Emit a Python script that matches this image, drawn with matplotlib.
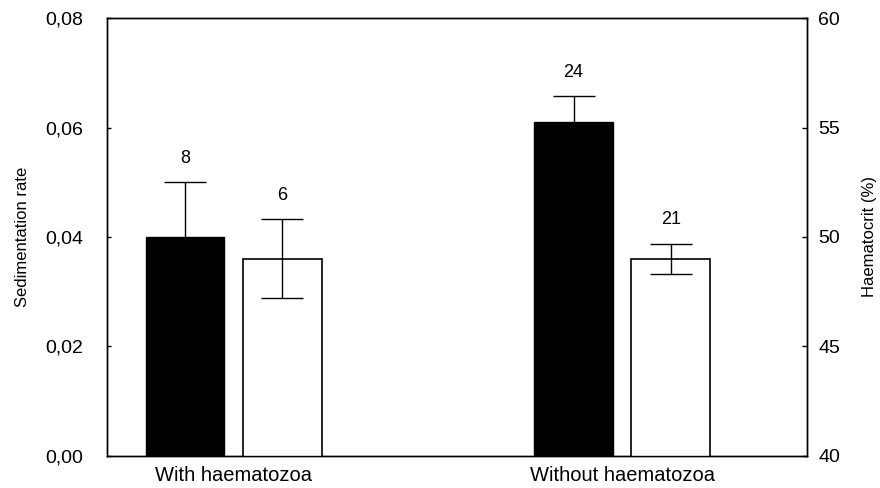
import matplotlib
matplotlib.use('Agg')
import matplotlib.pyplot as plt
from matplotlib.ticker import FuncFormatter, MultipleLocator

plt.rcParams['font.family'] = ['Liberation Sans', 'DejaVu Sans']

# data
groups = ['With haematozoa', 'Without haematozoa']
sed_rate = [0.040, 0.061]          # black bars, left axis
sed_err = [0.010, 0.0047]
sed_n = [8, 24]
haemato = [49.0, 49.0]             # white bars, right axis
haemato_err = [1.8, 0.7]
haemato_n = [6, 21]

x = [0, 1]
w = 0.203
off = 0.125

fig = plt.figure(figsize=(8.8, 4.88), dpi=100)
ax = fig.add_axes([0.1216, 0.0656, 0.7955, 0.8975])
ax2 = ax.twinx()

xb = [i - off for i in x]
xw = [i + off for i in x]

ax.bar(xb, sed_rate, width=w, color='black', edgecolor='black', linewidth=1, zorder=2)
ax.errorbar(xb, sed_rate, yerr=sed_err, fmt='none', ecolor='black',
            elinewidth=1, capsize=14.8, capthick=1, zorder=3)
ax2.bar(xw, haemato, width=w, bottom=0, color='white', edgecolor='black', linewidth=1.2, zorder=2)
ax2.errorbar(xw, haemato, yerr=haemato_err, fmt='none', ecolor='black',
             elinewidth=1, capsize=14.8, capthick=1, zorder=3)

for xi, v, e, n in zip(xb, sed_rate, sed_err, sed_n):
    ax.annotate(str(n), (xi, v + e), xytext=(0, 17), textcoords='offset points',
                ha='center', va='center', fontsize=13)
for xi, v, e, n in zip(xw, haemato, haemato_err, haemato_n):
    ax2.annotate(str(n), (xi, v + e), xytext=(0, 17.5), textcoords='offset points',
                 ha='center', va='center', fontsize=13)

ax.set_xlim(-0.3256, 1.476)
ax.set_ylim(0, 0.08)
ax2.set_ylim(40, 60)
ax.yaxis.set_major_locator(MultipleLocator(0.02))
ax2.yaxis.set_major_locator(MultipleLocator(5))
ax.yaxis.set_major_formatter(FuncFormatter(lambda v, p: f"{v:.2f}".replace('.', ',')))

ax.set_xticks(x)
ax.set_xticklabels(groups, fontsize=14.5)
ax.tick_params(axis='x', length=0, pad=7)
ax.tick_params(axis='y', direction='in', length=3, width=1, labelsize=14, pad=17)
ax2.tick_params(axis='y', direction='in', length=3.5, width=1, labelsize=14, pad=8)

ax.set_ylabel('Sedimentation rate', fontsize=12)
ax.yaxis.set_label_coords(-0.11, 0.5)
ax2.set_ylabel('Haematocrit (%)', fontsize=12)
ax2.yaxis.set_label_coords(1.079, 0.5)

for a in (ax, ax2):
    for s in a.spines.values():
        s.set_linewidth(1)

fig.savefig('out.png', dpi=100)
